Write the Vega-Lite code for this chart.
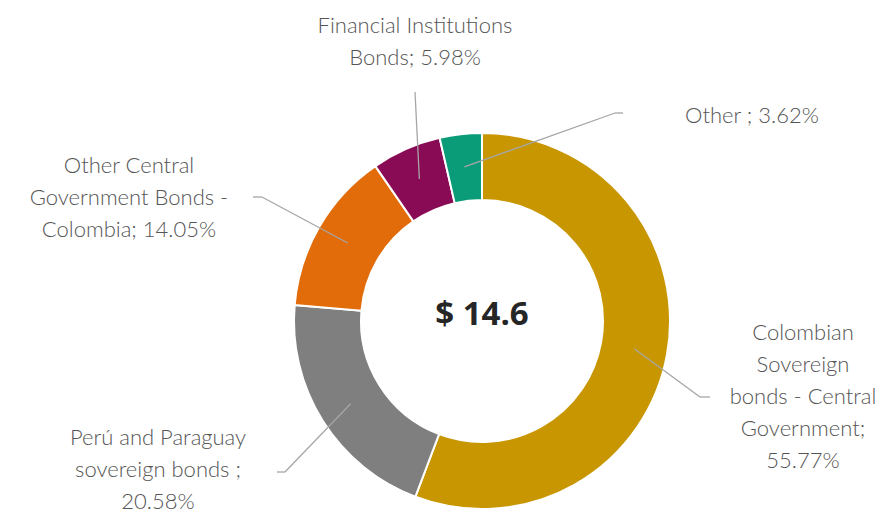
{
  "$schema": "https://vega.github.io/schema/vega-lite/v6.json",
  "width": 894,
  "height": 517,
  "autosize": {"type": "none"},
  "padding": 0,
  "background": "#ffffff",
  "config": {"view": {"stroke": null}},
  "datasets": {
    "portfolio": [
      {"id": "colombia", "category": "Colombian Sovereign bonds - Central Government", "label": "Colombian|Sovereign|bonds - Central|Government;|55.77%", "share": 55.77, "order": 1},
      {"id": "peru", "category": "Perú and Paraguay sovereign bonds", "label": "Perú and Paraguay|sovereign bonds ;|20.58%", "share": 20.58, "order": 2},
      {"id": "othercg", "category": "Other Central Government Bonds - Colombia", "label": "Other Central|Government Bonds -|Colombia; 14.05%", "share": 14.05, "order": 3},
      {"id": "fin", "category": "Financial Institutions Bonds", "label": "Financial Institutions|Bonds; 5.98%", "share": 5.98, "order": 4},
      {"id": "other", "category": "Other", "label": "Other ; 3.62%", "share": 3.62, "order": 5}
    ],
    "total": [{"total": 14.6}]
  },
  "data": {"name": "portfolio"},
  "transform": [
    {"window": [{"op": "sum", "field": "share", "as": "cum"}], "sort": [{"field": "order"}], "frame": [null, 0]},
    {"joinaggregate": [{"op": "sum", "field": "share", "as": "sumshare"}]},
    {"calculate": "2*PI*(datum.cum - datum.share/2)/datum.sumshare", "as": "mid"},
    {"calculate": "0.83*sin(datum.mid)", "as": "sx"},
    {"calculate": "0.83*cos(datum.mid)", "as": "sy"},
    {"calculate": "datum.id=='colombia' ? 1.1658 : datum.id=='peru' ? -1.0535 : datum.id=='othercg' ? -1.1765 : datum.id=='fin' ? -0.3583 : 0.7112", "as": "kx"},
    {"calculate": "datum.id=='colombia' ? -0.4064 : datum.id=='peru' ? -0.8075 : datum.id=='othercg' ? 0.6631 : datum.id=='fin' ? 1.2246 : 1.1123", "as": "ky"},
    {"calculate": "datum.id=='colombia' ? 1.2193 : datum.id=='peru' ? -1.0963 : datum.id=='othercg' ? -1.2246 : datum.id=='fin' ? -0.3583 : 0.7540", "as": "ex"},
    {"calculate": "datum.id=='colombia' ? 1.7166 : datum.id=='peru' ? -1.7326 : datum.id=='othercg' ? -1.8877 : datum.id=='fin' ? -0.3583 : 1.4439", "as": "lx"},
    {"calculate": "datum.id=='colombia' ? -0.1016 : datum.id=='peru' ? -0.6631 : datum.id=='othercg' ? 0.7914 : datum.id=='fin' ? 1.5401 : 1.0588", "as": "ly"}
  ],
  "layer": [
    {
      "mark": {"type": "arc", "outerRadius": 188, "innerRadius": 121, "stroke": "#ffffff", "strokeWidth": 2},
      "encoding": {
        "x": {"datum": 0, "type": "quantitative", "scale": {"domain": [-2.5775, 2.2032], "nice": false, "zero": false}, "axis": null},
        "y": {"datum": 0, "type": "quantitative", "scale": {"domain": [-1.0481, 1.7166], "nice": false, "zero": false}, "axis": null},
        "theta": {"field": "share", "type": "quantitative", "stack": true},
        "order": {"field": "order", "type": "quantitative"},
        "color": {"field": "id", "type": "nominal", "legend": null,
          "scale": {"domain": ["colombia", "peru", "othercg", "fin", "other"], "range": ["#C89600", "#7F7F7F", "#E26B0A", "#8A0B55", "#0A9B78"]}}
      }
    },
    {
      "mark": {"type": "rule", "color": "#A6A6A6", "strokeWidth": 1.3},
      "encoding": {
        "x": {"field": "sx", "type": "quantitative"},
        "y": {"field": "sy", "type": "quantitative"},
        "x2": {"field": "kx"},
        "y2": {"field": "ky"}
      }
    },
    {
      "mark": {"type": "rule", "color": "#A6A6A6", "strokeWidth": 1.3},
      "encoding": {
        "x": {"field": "kx", "type": "quantitative"},
        "y": {"field": "ky", "type": "quantitative"},
        "x2": {"field": "ex"}
      }
    },
    {
      "mark": {"type": "text", "align": "center", "baseline": "alphabetic", "lineBreak": "|", "lineHeight": 32, "font": "Lato", "fontWeight": 300, "fontSize": 22, "letterSpacing": 0.8, "color": "#555555"},
      "encoding": {
        "x": {"field": "lx", "type": "quantitative"},
        "y": {"field": "ly", "type": "quantitative"},
        "text": {"field": "label"}
      }
    },
    {
      "data": {"name": "total"},
      "transform": [{"calculate": "'$ ' + format(datum.total, '.1f')", "as": "centerText"}],
      "mark": {"type": "text", "align": "center", "baseline": "alphabetic", "dy": 4, "font": "Open Sans", "fontWeight": "bold", "fontSize": 33, "color": "#262626"},
      "encoding": {
        "x": {"datum": 0, "type": "quantitative"},
        "y": {"datum": 0, "type": "quantitative"},
        "text": {"field": "centerText"}
      }
    }
  ]
}
